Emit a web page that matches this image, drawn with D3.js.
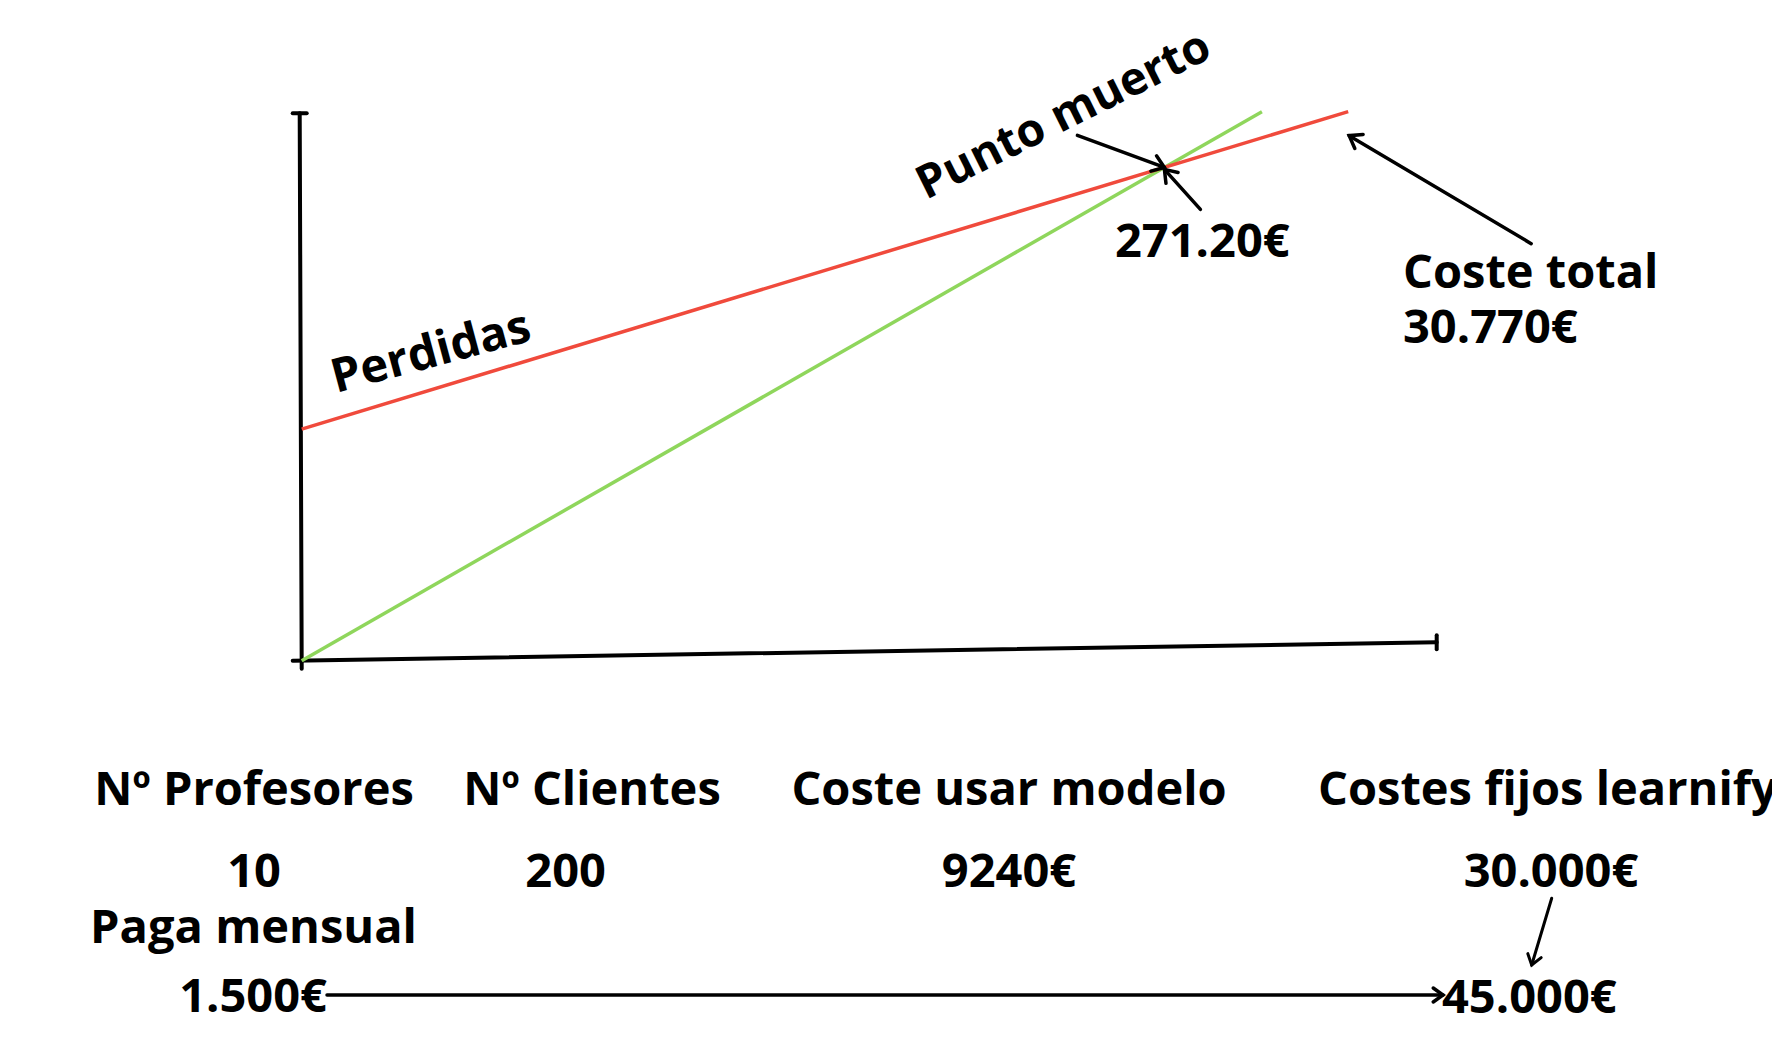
<!DOCTYPE html>
<html>
<head>
<meta charset="utf-8">
<script src="https://cdn.jsdelivr.net/npm/d3@7"></script>
<style>
  html, body { margin: 0; padding: 0; background: #ffffff; }
  svg { display: block; }
  text { font-family: "Open Sans", "Noto Sans", sans-serif; font-weight: 700; fill: #000; }
</style>
</head>
<body>
<svg id="chart" width="1772" height="1052"></svg>
<script>
// ---------------- data ----------------
const xDomain = [0, 100];
const yDomain = [0, 100];
// hand-drawn x axis drifts upward slightly towards its end
const xAxisEnd = [100, 3.36];

// total cost line (fixed + variable costs)
const costX = [0, 92.2];
const costY = [42.3, 100.3];
// income line
const incomeX = [0, 84.6];
const incomeY = [0, 100.3];

const lossLabel = "Perdidas";
const breakEvenLabel = "Punto muerto";
const breakEvenValue = "271.20€";
const totalCostLabel = ["Coste total", "30.770€"];

const categories = ["Nº Profesores", "Nº Clientes", "Coste usar modelo", "Costes fijos learnify"];
const categoryValues = ["10", "200", "9240€", "30.000€"];
const salaryLabel = "Paga mensual";
const salaryValue = "1.500€";
const salaryTotal = "45.000€";

// ---------------- drawing ----------------
const svg = d3.select("#chart");
const x = d3.scaleLinear().domain(xDomain).range([301.7, 1436.7]);
const y = d3.scaleLinear().domain(yDomain).range([660.7, 113.3]);

const RED = "#f04a3c", GREEN = "#8fd65c";
const FS = 47;

function arrow(g, x1, y1, x2, y2, w = 3.5, head = 14) {
  g.append("line").attr("x1", x1).attr("y1", y1).attr("x2", x2).attr("y2", y2)
    .attr("stroke", "#000").attr("stroke-width", w).attr("stroke-linecap", "round");
  const a = Math.atan2(y2 - y1, x2 - x1);
  const spread = 0.62;
  const p = [
    [x2 - head * Math.cos(a - spread), y2 - head * Math.sin(a - spread)],
    [x2, y2],
    [x2 - head * Math.cos(a + spread), y2 - head * Math.sin(a + spread)]
  ];
  g.append("path").attr("d", d3.line()(p)).attr("fill", "none")
    .attr("stroke", "#000").attr("stroke-width", w)
    .attr("stroke-linecap", "round").attr("stroke-linejoin", "miter");
}

// axes
const axes = svg.append("g").attr("stroke", "#000").attr("stroke-width", 4).attr("stroke-linecap", "round");
axes.append("line").attr("x1", x(0) - 2).attr("y1", y(yDomain[1])).attr("x2", x(0)).attr("y2", y(0) + 8);
axes.append("line").attr("x1", x(0) - 9).attr("y1", y(0)).attr("x2", x(xAxisEnd[0])).attr("y2", y(xAxisEnd[1]));
axes.append("line").attr("x1", x(0) - 9).attr("y1", y(yDomain[1])).attr("x2", x(0) + 5).attr("y2", y(yDomain[1]));
axes.append("line").attr("x1", x(xAxisEnd[0])).attr("y1", y(xAxisEnd[1]) - 7).attr("x2", x(xAxisEnd[0])).attr("y2", y(xAxisEnd[1]) + 7);

// lines
const lineGen = d3.line().x(d => x(d[0])).y(d => y(d[1]));
const income = incomeX.map((v, i) => [v, incomeY[i]]);
const cost = costX.map((v, i) => [v, costY[i]]);
svg.append("path").attr("d", lineGen(income)).attr("fill", "none").attr("stroke", GREEN).attr("stroke-width", 3.5);
svg.append("path").attr("d", lineGen(cost)).attr("fill", "none").attr("stroke", RED).attr("stroke-width", 3.5);

// break-even point
const mc = (costY[1] - costY[0]) / (costX[1] - costX[0]);
const mi = (incomeY[1] - incomeY[0]) / (incomeX[1] - incomeX[0]);
const bx = (costY[0] - incomeY[0]) / (mi - mc);
const by = incomeY[0] + mi * bx;
const P = [x(bx), y(by)];

const ann = svg.append("g");
arrow(ann, P[0] - 87, P[1] - 32, P[0], P[1]);
arrow(ann, P[0] + 36, P[1] + 42, P[0], P[1] + 2);
const endC = [x(costX[1]), y(costY[1])];
arrow(ann, endC[0] + 183, endC[1] + 132, endC[0] + 1, endC[1] + 24);

// rotated labels
svg.append("text").attr("transform", "translate(336,393) rotate(-15)")
  .attr("font-size", FS).text(lossLabel);
svg.append("text").attr("transform", "translate(926,200) rotate(-26.5)")
  .attr("font-size", 46).text(breakEvenLabel);

svg.append("text").attr("x", 1115).attr("y", 257).attr("font-size", FS).text(breakEvenValue);
svg.append("text").attr("x", 1403).attr("y", 288).attr("font-size", FS).text(totalCostLabel[0]);
svg.append("text").attr("x", 1403).attr("y", 343).attr("font-size", FS).text(totalCostLabel[1]);

// bottom table
const colCenters = [254, 592, 1009, 1551];
const heads = svg.append("g").attr("font-size", FS);
categories.forEach((c, i) => {
  const t = heads.append("text").attr("y", 805).text(c);
  if (i === 3) t.attr("x", 1318).attr("text-anchor", "start");
  else t.attr("x", colCenters[i]).attr("text-anchor", "middle");
});
const vals = svg.append("g").attr("font-size", FS).attr("text-anchor", "middle");
categoryValues.forEach((v, i) => {
  vals.append("text").attr("x", i === 1 ? 565.6 : colCenters[i]).attr("y", 887).text(v);
});
svg.append("text").attr("x", 253.5).attr("y", 943).attr("font-size", FS).attr("text-anchor", "middle").text(salaryLabel);
svg.append("text").attr("x", 327).attr("y", 1012).attr("font-size", FS).attr("text-anchor", "end").text(salaryValue);
svg.append("text").attr("x", 1442).attr("y", 1013).attr("font-size", FS).attr("text-anchor", "start").text(salaryTotal);

arrow(ann, 327, 995, 1443, 995, 3.5, 12);
arrow(ann, 1551.7, 898.3, 1531.7, 965, 3, 12);
</script>
</body>
</html>
